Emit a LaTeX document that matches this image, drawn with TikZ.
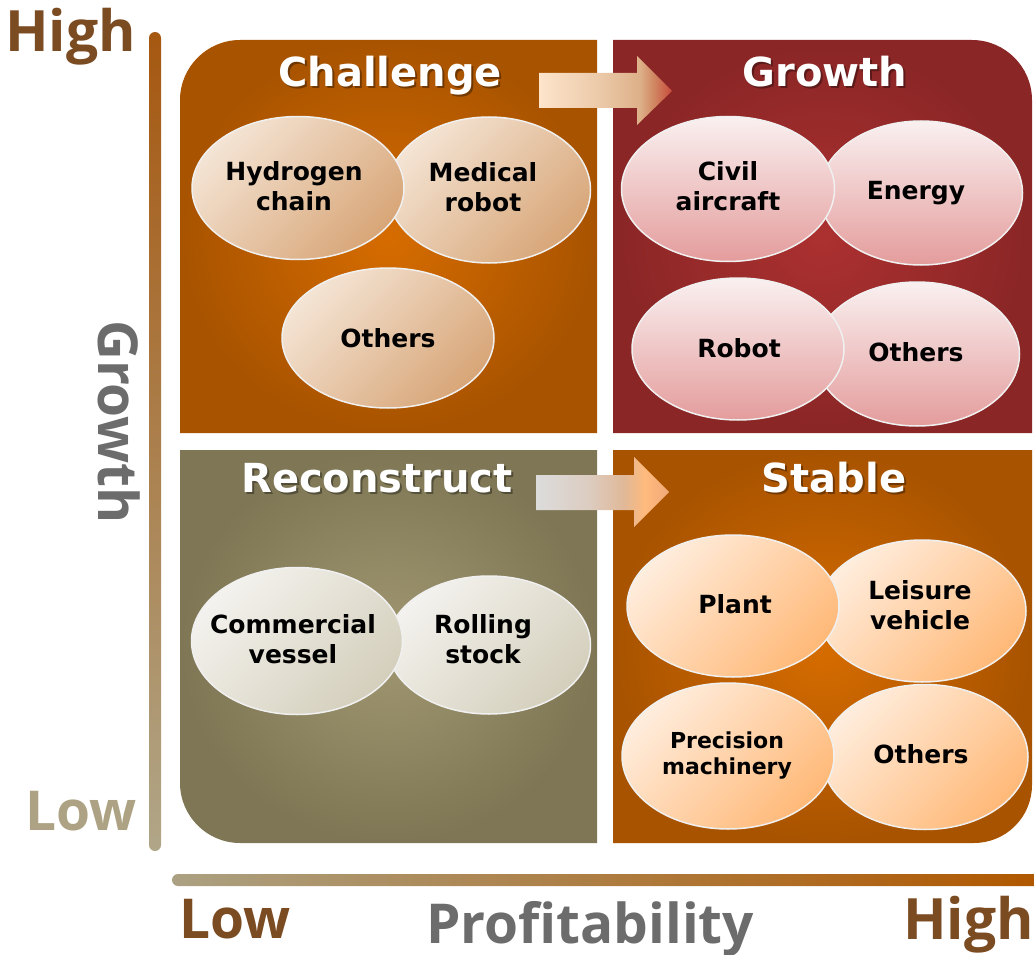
\documentclass[tikz,border=0pt]{standalone}
\usepackage{fontspec}
\setmainfont{DejaVu Sans}
\newfontfamily\axisfont{Open Sans}
\usetikzlibrary{shapes.geometric}
\definecolor{qOin}{HTML}{D66C00}
\definecolor{qOout}{HTML}{A85300}
\definecolor{qRin}{HTML}{AC3030}
\definecolor{qRout}{HTML}{8A2626}
\definecolor{qGin}{HTML}{A19872}
\definecolor{qGout}{HTML}{7E7654}
\definecolor{eCl}{HTML}{F4E4D4}
\definecolor{eCd}{HTML}{D8A678}
\definecolor{eRl}{HTML}{FAF0F0}
\definecolor{eRd}{HTML}{E49C9C}
\definecolor{eGl}{HTML}{F4F2EE}
\definecolor{eGd}{HTML}{D4CFBC}
\definecolor{eSl}{HTML}{FFEDDD}
\definecolor{eSd}{HTML}{FFB978}
\definecolor{axBrown}{HTML}{7B4B22}
\definecolor{axTan}{HTML}{ADA283}
\definecolor{axGray}{HTML}{6C6C6C}
\definecolor{barTop}{HTML}{A65810}
\definecolor{barMid}{HTML}{DCDAD8}
\definecolor{barBot}{HTML}{B0A688}
\definecolor{hbarL}{HTML}{ABA182}
\definecolor{hbarM}{HTML}{DEDBD8}
\definecolor{hbarR}{HTML}{B05800}
\definecolor{atA}{HTML}{FDE4CB}
\definecolor{atB}{HTML}{EBC9A8}
\definecolor{atC}{HTML}{DDB088}
\definecolor{atD}{HTML}{D08862}
\definecolor{atE}{HTML}{C84A3C}
\definecolor{abA}{HTML}{DCDCDC}
\definecolor{abB}{HTML}{DCCCC0}
\definecolor{abC}{HTML}{E0B898}
\definecolor{abD}{HTML}{FFBA7C}
\definecolor{abE}{HTML}{F0A878}
\pgfdeclarehorizontalshading{arrowtop}{100bp}{color(0bp)=(atA); color(25bp)=(atA); color(48bp)=(atB); color(63bp)=(atC); color(68bp)=(atD); color(75bp)=(atE); color(100bp)=(atE)}
\pgfdeclarehorizontalshading{arrowbot}{100bp}{color(0bp)=(abA); color(25bp)=(abA); color(45bp)=(abB); color(58bp)=(abC); color(66bp)=(abD); color(75bp)=(abE); color(100bp)=(abE)}
\begin{document}
\begin{tikzpicture}[x=1pt,y=-1pt,
  ellbase/.style={ellipse, draw=white!94!black, line width=1.5pt, inner sep=0pt},
  ellC/.style={ellbase, top color=eCl, bottom color=eCd, shading angle=45},
  ellR/.style={ellbase, top color=eRl, bottom color=eRd},
  ellG/.style={ellbase, top color=eGl, bottom color=eGd, shading angle=45},
  ellS/.style={ellbase, top color=eSl, bottom color=eSd, shading angle=45},
  lbl/.style={font=\fontsize{25}{30}\selectfont\bfseries, text=black, align=center, inner sep=0pt},
  lblsmall/.style={font=\fontsize{22}{26}\selectfont\bfseries, text=black, align=center, inner sep=0pt},
  ttl/.style={font=\fontsize{40}{48}\selectfont\bfseries, text=white, inner sep=0pt, anchor=base},
  ttlsh/.style={font=\fontsize{40}{48}\selectfont\bfseries, text=black, opacity=0.35, inner sep=0pt, anchor=base},
  axl/.style={font=\axisfont\fontsize{55}{60}\selectfont\bfseries, inner sep=0pt},
  axlhi/.style={font=\axisfont\fontsize{57}{62}\selectfont\bfseries, inner sep=0pt}
]
\useasboundingbox (0,0) rectangle (1034,955);

% quadrants
\shade[inner color=qOin, outer color=qOout]
  (597,40) -- (240,40) .. controls (207,40) and (180,67) .. (180,100) -- (180,433) -- (597,433) -- cycle;
\shade[inner color=qRin, outer color=qRout]
  (613,40) -- (972,40) .. controls (1005,40) and (1032,67) .. (1032,100) -- (1032,433) -- (613,433) -- cycle;
\shade[inner color=qGin, outer color=qGout]
  (180,450) -- (597,450) -- (597,843) -- (240,843) .. controls (207,843) and (180,816) .. (180,783) -- cycle;
\shade[inner color=qOin, outer color=qOout]
  (613,450) -- (1032,450) -- (1032,785) .. controls (1032,817) and (1006,843) .. (974,843) -- (613,843) -- cycle;

% axis bars
\shade[top color=barTop, middle color=barMid, bottom color=barBot, rounded corners=6pt]
  (149,32) rectangle (161,851);
\shade[left color=hbarL, middle color=hbarM, right color=hbarR]
  (178,874) .. controls (174.7,874) and (172,876.7) .. (172,880) .. controls (172,883.3) and (174.7,886) .. (178,886) -- (1034,886) -- (1034,874) -- cycle;

% arrows
\shade[shading=arrowtop]
  (539,73) -- (637,73) -- (637,56) -- (672,91) -- (637,125) -- (637,108) -- (539,108) -- cycle;
\shade[shading=arrowbot]
  (536,475) -- (634,475) -- (634,457) -- (669,492) -- (634,527) -- (634,510) -- (536,510) -- cycle;

% titles
\node[ttlsh] (tCs) at (392,89) {Challenge};
\node[ttl] (tC) at (390,87) {Challenge};
\node[ttlsh] (tGs) at (827,89) {Growth};
\node[ttl] (tG) at (825,87) {Growth};
\node[ttlsh] (tRs) at (379,494) {Reconstruct};
\node[ttl] (tR) at (377,492) {Reconstruct};
\node[ttlsh] (tSs) at (836,494) {Stable};
\node[ttl] (tS) at (834,492) {Stable};

% Challenge ellipses
\node[ellC, minimum width=203pt, minimum height=146pt] (eMed) at (489,190) {};
\node[ellC, minimum width=212pt, minimum height=143pt] (eHyd) at (298,188) {};
\node[ellC, minimum width=212pt, minimum height=140pt] (eOC) at (388,338) {};
\node[lbl] (lHyd) at (294,186.5) {Hydrogen\\chain};
\node[lbl] (lMed) at (483,187.5) {Medical\\robot};
\node[lbl, anchor=base] (lOC) at (388,347) {Others};

% Growth ellipses
\node[ellR, minimum width=203pt, minimum height=144pt] (eEn) at (921,193) {};
\node[ellR, minimum width=213pt, minimum height=145pt] (eCiv) at (728,189) {};
\node[ellR, minimum width=205pt, minimum height=144pt] (eOG) at (917,354) {};
\node[ellR, minimum width=212pt, minimum height=142pt] (eRob) at (738,349) {};
\node[lbl] (lCiv) at (728,186.5) {Civil\\aircraft};
\node[lbl, anchor=base] (lEn) at (916,200) {Energy};
\node[lbl, anchor=base] (lRob) at (739,357) {Robot};
\node[lbl, anchor=base] (lOG) at (916,361) {Others};

% Reconstruct ellipses
\node[ellG, minimum width=203pt, minimum height=138pt] (eRol) at (489,645) {};
\node[ellG, minimum width=211pt, minimum height=147pt] (eCom) at (297,641) {};
\node[lbl] (lCom) at (293,639.5) {Commercial\\vessel};
\node[lbl] (lRol) at (483,639.5) {Rolling\\stock};

% Stable ellipses
\node[ellS, minimum width=208pt, minimum height=142pt] (eLei) at (922,611) {};
\node[ellS, minimum width=212pt, minimum height=142pt] (ePla) at (733,606) {};
\node[ellS, minimum width=206pt, minimum height=145pt] (eOS) at (925,757) {};
\node[ellS, minimum width=212pt, minimum height=146pt] (ePre) at (728,756) {};
\node[lbl, anchor=base] (lPla) at (735,613) {Plant};
\node[lbl] (lLei) at (920,605) {Leisure\\vehicle};
\node[lblsmall] (lPre) at (727,756) {Precision\\machinery};
\node[lbl, anchor=base] (lOS) at (921,763) {Others};

% axis labels
\node[axlhi, text=axBrown, anchor=base west] (hiY) at (5,52) {High};
\node[axl, text=axTan, anchor=base west] (loY) at (25,830) {Low};
\node[axl, text=axGray, anchor=base west, rotate=-90] (gY) at (98,320) {Growth};
\node[axl, text=axBrown, anchor=base west] (loX) at (179,938) {Low};
\node[axl, text=axGray, anchor=base west] (pX) at (426,943) {Profitability};
\node[axlhi, text=axBrown, anchor=base east] (hiX) at (1034,939) {High};
\end{tikzpicture}
\end{document}
